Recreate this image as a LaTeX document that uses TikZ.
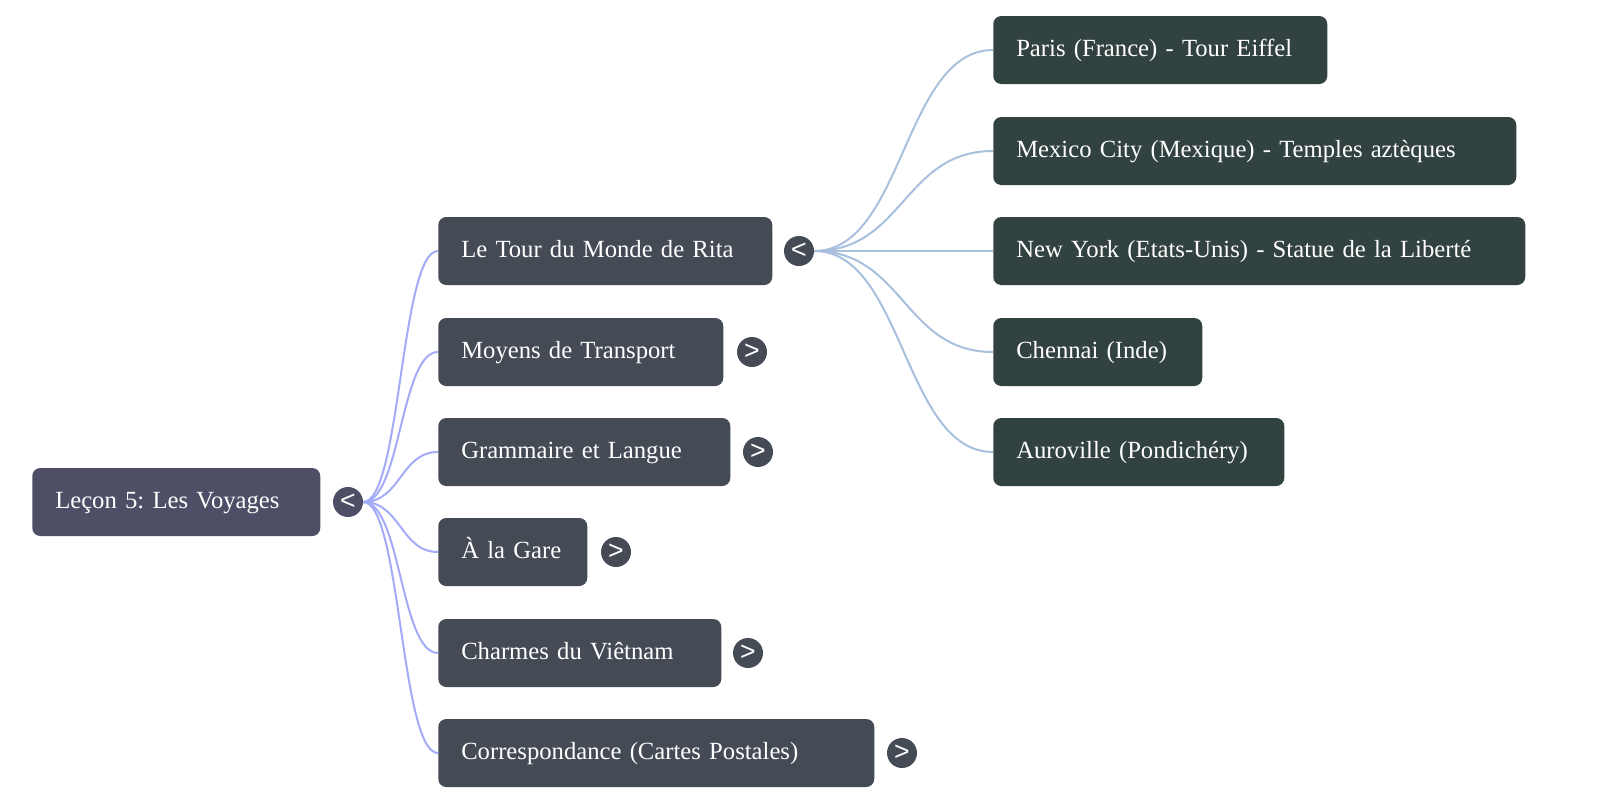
\documentclass[tikz,border=0pt]{standalone}
\usepackage{fontspec}
\setmainfont{Liberation Serif}
\newfontfamily\togglefont{Liberation Sans}
\frenchspacing
\usetikzlibrary{backgrounds}

\definecolor{rootfill}{HTML}{4E4F66}
\definecolor{branchfill}{HTML}{444B55}
\definecolor{leaffill}{HTML}{324240}
\definecolor{rootlink}{HTML}{A3ABF7}
\definecolor{leaflink}{HTML}{A8C0DE}

\tikzset{
  topic/.style={rounded corners=6pt, anchor=west, align=left, text=white,
    minimum height=51pt, inner xsep=17.25pt, text width=#1,
    text height=13pt, text depth=4pt,
    font=\fontsize{18.5}{22}\selectfont},
  toggle/.style={circle, inner sep=0pt, minimum size=22.5pt, text=white,
    font=\togglefont\fontsize{20}{20}\selectfont},
  link/.style={line width=1.5pt}
}

\begin{document}
\begin{tikzpicture}[x=0.75pt,y=-0.75pt]
   \useasboundingbox (0,0) rectangle (1600,804);
   % root
   \node[topic=181.5pt, fill=rootfill] (root) at (32,502) {Leçon 5: Les Voyages};
   \node[toggle, fill=rootfill] (rootc) at (348,502) {<};
   % chapters
   \node[topic=216pt, fill=branchfill] (tour) at (438,251) {Le Tour du Monde de Rita};
   \node[topic=179.25pt, fill=branchfill] (moyens) at (438,352) {Moyens de Transport};
   \node[topic=184.5pt, fill=branchfill] (gramm) at (438,452) {Grammaire et Langue};
   \node[topic=77.25pt, fill=branchfill] (gare) at (438,552) {À la Gare};
   \node[topic=177.75pt, fill=branchfill] (viet) at (438,653) {Charmes du Viêtnam};
   \node[topic=292.5pt, fill=branchfill] (corr) at (438,753) {Correspondance (Cartes Postales)};
   \node[toggle, fill=branchfill] (tourc) at (799,251) {<};
   \node[toggle, fill=branchfill] (moyensc) at (752,352) {>};
   \node[toggle, fill=branchfill] (grammc) at (758,452) {>};
   \node[toggle, fill=branchfill] (garec) at (616,552) {>};
   \node[toggle, fill=branchfill] (vietc) at (748,653) {>};
   \node[toggle, fill=branchfill] (corrc) at (902,753) {>};
   % places
   \node[topic=216pt, fill=leaffill] (paris) at (993,50) {Paris (France) - Tour Eiffel};
   \node[topic=357.75pt, fill=leaffill] (mexico) at (993,151) {Mexico City (Mexique) - Temples aztèques};
   \node[topic=364.5pt, fill=leaffill] (ny) at (993,251) {New York (Etats-Unis) - Statue de la Liberté};
   \node[topic=122.25pt, fill=leaffill] (chennai) at (993,352) {Chennai (Inde)};
   \node[topic=183.75pt, fill=leaffill] (auro) at (993,452) {Auroville (Pondichéry)};
   % links
   \begin{scope}[on background layer]
   \draw[link, rootlink] (rootc.east) .. controls +(37.5,0) and +(-37.5,0) .. (tour.west);
   \draw[link, rootlink] (rootc.east) .. controls +(37.5,0) and +(-37.5,0) .. (moyens.west);
   \draw[link, rootlink] (rootc.east) .. controls +(37.5,0) and +(-37.5,0) .. (gramm.west);
   \draw[link, rootlink] (rootc.east) .. controls +(37.5,0) and +(-37.5,0) .. (gare.west);
   \draw[link, rootlink] (rootc.east) .. controls +(37.5,0) and +(-37.5,0) .. (viet.west);
   \draw[link, rootlink] (rootc.east) .. controls +(37.5,0) and +(-37.5,0) .. (corr.west);
   \draw[link, leaflink] (tourc.east) .. controls +(89.5,0) and +(-89.5,0) .. (paris.west);
   \draw[link, leaflink] (tourc.east) .. controls +(89.5,0) and +(-89.5,0) .. (mexico.west);
   \draw[link, leaflink] (tourc.east) -- (ny.west);
   \draw[link, leaflink] (tourc.east) .. controls +(89.5,0) and +(-89.5,0) .. (chennai.west);
   \draw[link, leaflink] (tourc.east) .. controls +(89.5,0) and +(-89.5,0) .. (auro.west);
   \end{scope}
\end{tikzpicture}
\end{document}
